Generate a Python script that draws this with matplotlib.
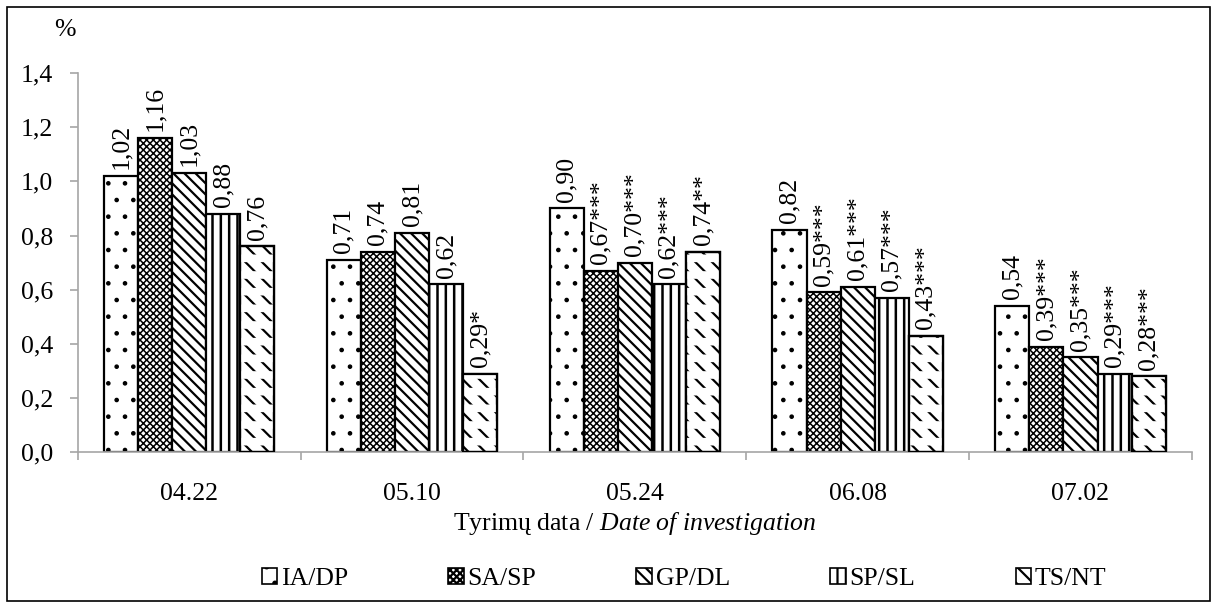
import numpy as np
import matplotlib
matplotlib.use("Agg")
import matplotlib.pyplot as plt
from matplotlib.patches import Patch, Rectangle

plt.rcParams['font.family'] = ['Liberation Serif', 'DejaVu Serif']
plt.rcParams['mathtext.fontset'] = 'custom'
plt.rcParams['mathtext.rm'] = 'Liberation Serif'
plt.rcParams['mathtext.it'] = 'Liberation Serif:italic'
plt.rcParams['hatch.linewidth'] = 1.6

dates = ['04.22', '05.10', '05.24', '06.08', '07.02']
groups = ['IA/DP', 'SA/SP', 'GP/DL', 'SP/SL', 'TS/NT']

ia_dp = [1.02, 0.71, 0.90, 0.82, 0.54]
sa_sp = [1.16, 0.74, 0.67, 0.59, 0.39]
gp_dl = [1.03, 0.81, 0.70, 0.61, 0.35]
sp_sl = [0.88, 0.62, 0.62, 0.57, 0.29]
ts_nt = [0.76, 0.29, 0.74, 0.43, 0.28]

# significance marks
stars_ia = ['', '', '', '', '']
stars_sa = ['', '', '***', '***', '***']
stars_gp = ['', '', '***', '***', '***']
stars_sp = ['', '', '***', '***', '***']
stars_ts = ['', '*', '**', '***', '***']

series = [ia_dp, sa_sp, gp_dl, sp_sl, ts_nt]
stars = [stars_ia, stars_sa, stars_gp, stars_sp, stars_ts]
hatches = ['.', 'xxxxx', '\\\\\\', '||', '\\\\']
hatch_lw = [0.9, 1.1, 1.6, 1.8, 1.6]


def set_hlw(patch, lw):
    try:
        patch.set_hatch_linewidth(lw)
    except AttributeError:
        pass


fig = plt.figure(figsize=(12.15, 6.03), dpi=100)
ax = fig.add_axes([0.064, 0.250, 0.917, 0.629])

x = np.arange(len(dates))
w = 0.153
fs = 18.5

for i, (vals, st) in enumerate(zip(series, stars)):
    pos = x + (i - 2) * w
    bars = ax.bar(pos, vals, w, color='white', edgecolor='black',
                  linewidth=1.6, hatch=hatches[i], zorder=2)
    for b in bars:
        set_hlw(b, hatch_lw[i])
    if groups[i] == 'TS/NT':
        # break the diagonal lines into short dashes
        over = ax.bar(pos, vals, w, color='none', edgecolor='white', linewidth=0,
                      hatch='-', zorder=3)
        for b in over:
            set_hlw(b, 5.5)
        ax.bar(pos, vals, w, color='none', edgecolor='black', linewidth=1.6,
               zorder=4)
    for p, v, s in zip(pos, vals, st):
        lbl = ('%.2f' % v).replace('.', ',') + s
        ax.text(p, v + 0.025, lbl, rotation=90, ha='center', va='bottom',
                fontsize=fs, clip_on=False)

ax.set_ylim(0, 1.4)
ax.set_xlim(-0.5, len(dates) - 0.5)
ax.set_yticks(np.arange(0, 1.41, 0.2))
ax.set_yticklabels([('%.1f' % t).replace('.', ',') for t in np.arange(0, 1.41, 0.2)],
                   fontsize=fs)
ax.set_xticks(x)
ax.set_xticklabels(dates, fontsize=fs)
ax.set_xticks(np.arange(-0.5, len(dates), 1), minor=True)
ax.tick_params(axis='x', which='major', length=0, pad=22)
ax.tick_params(axis='x', which='minor', length=6, color='#a6a6a6', width=1.2)
ax.tick_params(axis='y', length=6, color='#a6a6a6', width=1.2, pad=12)
for sp in ['top', 'right']:
    ax.spines[sp].set_visible(False)
for sp in ['left', 'bottom']:
    ax.spines[sp].set_color('#a6a6a6')
    ax.spines[sp].set_linewidth(1.2)

ax.set_xlabel('Tyrimų data / $\\it{Date\\ of\\ investigation}$', fontsize=fs, labelpad=4)
fig.text(0.053, 0.950, '%', fontsize=fs, ha='center', va='center')

handles = [Patch(facecolor='white', edgecolor='black', hatch=h, linewidth=1.2)
           for h in hatches]
fig.legend(handles, groups, loc='center', bbox_to_anchor=(0.563, 0.04), ncol=5,
           frameon=False, fontsize=fs, handlelength=0.6, handleheight=0.6,
           handletextpad=0.15, columnspacing=3.9, borderpad=0)

fig.patches.append(Rectangle((0.006, 0.003), 0.99, 0.985, transform=fig.transFigure,
                             fill=False, edgecolor='black', linewidth=1.2))

fig.savefig('out.png', dpi=100)
